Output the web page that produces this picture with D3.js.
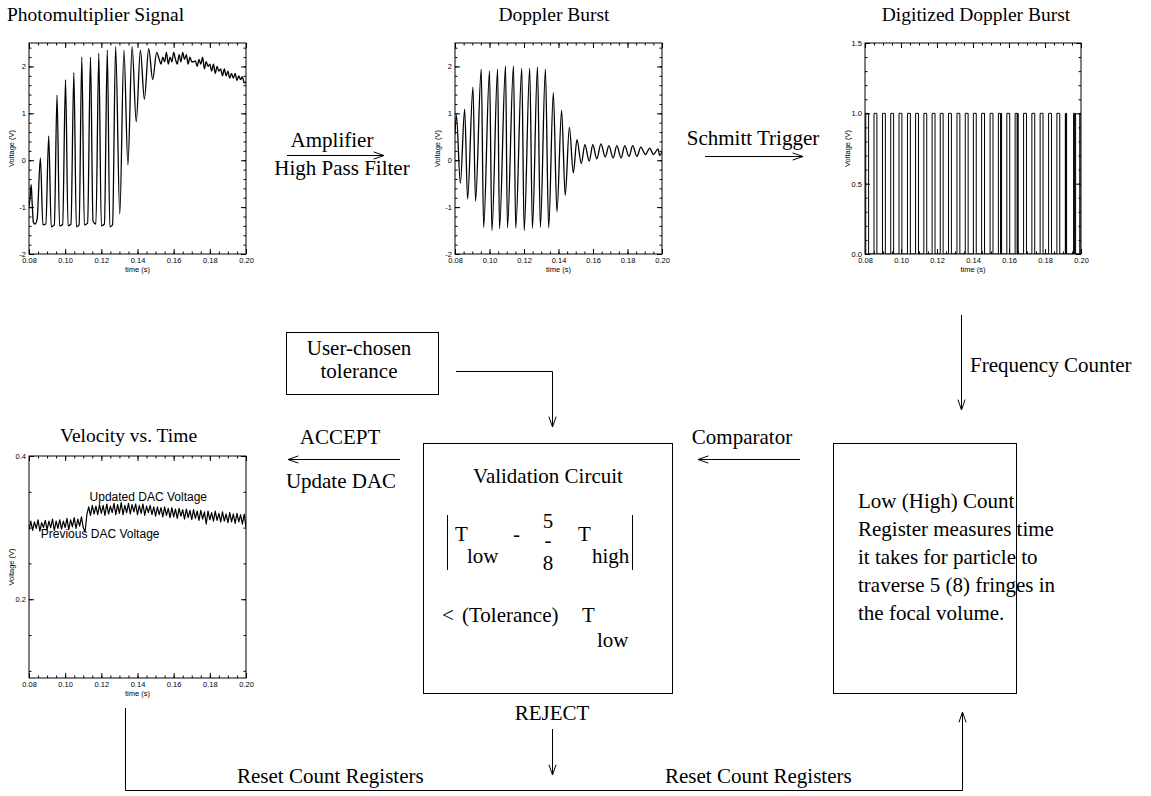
<!DOCTYPE html>
<html>
<head>
<meta charset="utf-8">
<script src="https://cdn.jsdelivr.net/npm/d3@7/dist/d3.min.js"></script>
<style>
  body { margin: 0; background: #fff; }
  .serif { font-family: 'Liberation Serif', 'Times New Roman', serif; font-size: 21px; fill: #000; }
  .title { font-family: 'Liberation Serif', 'Times New Roman', serif; font-size: 19.5px; fill: #000; }
  .axis text { font-family: 'Liberation Sans', Arial, sans-serif; font-size: 7.5px; fill: #000; }
  .axis line { stroke: #000; }
  .lab { font-family: 'Liberation Sans', Arial, sans-serif; font-size: 7.5px; fill: #000; }
</style>
</head>
<body>
<div class="viz"></div>
<script>
// ---------------- data ----------------
const timeTicks = [0.08, 0.10, 0.12, 0.14, 0.16, 0.18, 0.20]

// photomultiplier signal: extrema of the burst, then the noisy tail
const pmTimes = [0.0800, 0.0806, 0.0812, 0.0818, 0.0824, 0.0834, 0.0845,
  0.0863, 0.0877, 0.0893, 0.0909, 0.0923, 0.0940, 0.0955, 0.0969, 0.0986,
  0.1002, 0.1016, 0.1032, 0.1048, 0.1062, 0.1077, 0.1092, 0.1106, 0.1124,
  0.1140, 0.1154, 0.1170, 0.1186, 0.1200, 0.1217, 0.1233, 0.1247, 0.1262,
  0.1279, 0.1302, 0.1325, 0.1347, 0.1370, 0.1393, 0.1416, 0.1438, 0.1462,
  0.1484, 0.1506,
  0.152, 0.153, 0.154, 0.155, 0.156, 0.157, 0.158, 0.159, 0.160, 0.161,
  0.162, 0.163, 0.164, 0.165, 0.166, 0.167, 0.168, 0.169, 0.170, 0.171,
  0.172, 0.173, 0.174, 0.175, 0.176, 0.177, 0.178, 0.179, 0.180, 0.181,
  0.182, 0.183, 0.184, 0.185, 0.186, 0.187, 0.188, 0.189, 0.190, 0.191,
  0.192, 0.193, 0.194, 0.195, 0.196, 0.197, 0.198, 0.199, 0.200]
const pmVolts = [-1.00, -0.80, -0.52, -0.95, -1.32, -1.36, -1.25,
  0.05, -1.38, -1.36, 0.52, -1.42, -1.38, 1.39, -1.40, -1.37,
  1.72, -1.40, -1.36, 1.87, -1.42, -1.38, 2.20, -1.38, -1.34,
  2.20, -1.30, -1.36, 2.28, -1.40, -1.36, 2.35, -1.42, -1.38,
  2.42, -1.15, 2.35, -0.10, 2.42, 0.82, 2.35, 1.30, 2.38,
  1.72, 2.30,
  2.15, 2.05, 2.20, 2.10, 2.30, 2.05, 2.20, 2.10, 2.30, 2.15,
  2.05, 2.25, 2.10, 2.30, 2.15, 2.25, 2.05, 2.20, 2.10, 2.10,
  2.12, 2.00, 2.15, 2.05, 2.20, 1.95, 2.10, 2.00, 2.05, 1.90,
  2.05, 1.85, 2.00, 1.90, 1.95, 1.80, 1.95, 1.80, 1.90, 1.75,
  1.85, 1.75, 1.85, 1.70, 1.80, 1.72, 1.78, 1.65, 1.68]
const pmTicks = [-2, -1, 0, 1, 2]

// doppler burst after high pass filter: extrema
const dbTimes = [0.0800, 0.0808, 0.0831, 0.0856, 0.0873, 0.0904, 0.0919, 0.0952,
  0.0966, 0.1000, 0.1014, 0.1047, 0.1058, 0.1093, 0.1104, 0.1139, 0.1152,
  0.1187, 0.1201, 0.1233, 0.1249, 0.1278, 0.1295, 0.1324, 0.1343, 0.1370,
  0.1391, 0.1418, 0.1439, 0.1463, 0.1486, 0.1507, 0.1532, 0.1553, 0.1578,
  0.1599, 0.1622, 0.1646, 0.1671, 0.1692, 0.1717, 0.1738, 0.1763, 0.1784,
  0.1809, 0.1830, 0.1855, 0.1877, 0.1904, 0.1929, 0.1950, 0.1977, 0.1986, 0.2000]
const dbVolts = [0.55, 0.96, -0.49, 1.09, -0.83, 1.56, -0.87, 1.94,
  -1.43, 1.90, -1.50, 1.94, -1.46, 2.01, -1.44, 2.01, -1.45,
  1.96, -1.50, 1.96, -1.45, 1.99, -1.43, 1.94, -1.44, 1.44,
  -1.10, 1.07, -0.75, 0.70, -0.27, 0.44, -0.07, 0.33, -0.02,
  0.33, 0.03, 0.35, 0.07, 0.31, 0.05, 0.31, 0.05, 0.31,
  0.08, 0.31, 0.08, 0.28, 0.12, 0.26, 0.12, 0.24, 0.10, 0.18]

// schmitt trigger output: pulse edges
const digRise = [0.0804, 0.0850, 0.0897, 0.0943, 0.0989, 0.1036, 0.1081, 0.1127,
  0.1173, 0.1218, 0.1264, 0.1311, 0.1357, 0.1402, 0.1448, 0.1495, 0.1541, 0.1556,
  0.1588, 0.1634, 0.1648, 0.1681, 0.1727, 0.1773, 0.1820, 0.1866, 0.1913, 0.1917,
  0.1959, 0.1965, 0.1993]
const digFall = [0.0820, 0.0866, 0.0913, 0.0959, 0.1005, 0.1052, 0.1097, 0.1143,
  0.1189, 0.1234, 0.1280, 0.1327, 0.1373, 0.1418, 0.1464, 0.1511, 0.1553, 0.1559,
  0.1604, 0.1645, 0.1651, 0.1697, 0.1743, 0.1789, 0.1836, 0.1882, 0.1915, 0.1920,
  0.1962, 0.1970, 0.2000]
const digTicks = [0, 0.5, 1.0, 1.5]

// velocity vs time (DAC voltage)
const velTimes = [0.080, 0.081, 0.082, 0.083, 0.084, 0.085, 0.086, 0.087, 0.088, 0.089,
  0.090, 0.091, 0.092, 0.093, 0.094, 0.095, 0.096, 0.097, 0.098, 0.099,
  0.100, 0.101, 0.102, 0.103, 0.104, 0.105, 0.106, 0.107, 0.108, 0.109,
  0.110, 0.111, 0.112, 0.113, 0.114, 0.115, 0.116, 0.117, 0.118, 0.119,
  0.120, 0.121, 0.122, 0.123, 0.124, 0.125, 0.126, 0.127, 0.128, 0.129,
  0.130, 0.131, 0.132, 0.133, 0.134, 0.135, 0.136, 0.137, 0.138, 0.139,
  0.140, 0.141, 0.142, 0.143, 0.144, 0.145, 0.146, 0.147, 0.148, 0.149,
  0.150, 0.151, 0.152, 0.153, 0.154, 0.155, 0.156, 0.157, 0.158, 0.159,
  0.160, 0.161, 0.162, 0.163, 0.164, 0.165, 0.166, 0.167, 0.168, 0.169,
  0.170, 0.171, 0.172, 0.173, 0.174, 0.175, 0.176, 0.177, 0.178, 0.179,
  0.180, 0.181, 0.182, 0.183, 0.184, 0.185, 0.186, 0.187, 0.188, 0.189,
  0.190, 0.191, 0.192, 0.193, 0.194, 0.195, 0.196, 0.197, 0.198, 0.199, 0.200]
const velVolts = [0.297, 0.309, 0.296, 0.308, 0.299, 0.311, 0.295, 0.307, 0.300, 0.310,
  0.297, 0.309, 0.300, 0.312, 0.296, 0.309, 0.299, 0.311, 0.298, 0.309,
  0.300, 0.313, 0.297, 0.311, 0.301, 0.314, 0.299, 0.312, 0.302, 0.315,
  0.300, 0.294, 0.318, 0.329, 0.317, 0.331, 0.319, 0.330, 0.318, 0.332,
  0.320, 0.331, 0.317, 0.333, 0.319, 0.330, 0.321, 0.334, 0.318, 0.332,
  0.320, 0.335, 0.318, 0.331, 0.321, 0.334, 0.319, 0.332, 0.322, 0.333,
  0.318, 0.331, 0.320, 0.333, 0.317, 0.330, 0.321, 0.331, 0.318, 0.329,
  0.316, 0.329, 0.318, 0.328, 0.315, 0.329, 0.317, 0.327, 0.314, 0.328,
  0.315, 0.326, 0.313, 0.327, 0.316, 0.325, 0.312, 0.326, 0.314, 0.324,
  0.311, 0.325, 0.313, 0.323, 0.310, 0.324, 0.312, 0.322, 0.305, 0.323,
  0.311, 0.321, 0.309, 0.323, 0.310, 0.320, 0.308, 0.322, 0.309, 0.319,
  0.307, 0.321, 0.308, 0.319, 0.306, 0.320, 0.308, 0.318, 0.305, 0.319, 0.300]
const velTicks = [0.2, 0.4]

// ---------------- svg ----------------
const svg = d3.select('.viz')
  .append('svg')
    .attr('width', 1151)
    .attr('height', 796)
    .style('display', 'block')

// one IDL-style plot: frame, inward ticks on all four sides, small labels
function drawPlot(opts) {
  const g = svg.append('g').attr('transform', `translate(${opts.left}, ${opts.top})`)
  const w = opts.width, h = opts.height
  const x = d3.scaleLinear().domain([0.08, 0.20]).range([0, w])
  const y = d3.scaleLinear().domain(opts.yDomain).range([h, 0])

  const xMinor = x.ticks(24)
  const yMinor = y.ticks(opts.yMinorCount).filter(v => v >= opts.yDomain[0] && v <= opts.yDomain[1])
  const noDomain = s => s.select('.domain').remove()

  g.append('g').attr('class', 'axis').attr('transform', `translate(0, ${h})`)
    .call(d3.axisBottom(x).tickValues(timeTicks).tickFormat(d3.format('.2f')).tickSize(-5).tickPadding(3.5))
    .call(noDomain)
  g.append('g').attr('class', 'axis').attr('transform', `translate(0, ${h})`)
    .call(d3.axisBottom(x).tickValues(xMinor).tickFormat('').tickSize(-2.5)).call(noDomain)
  g.append('g').attr('class', 'axis')
    .call(d3.axisTop(x).tickValues(timeTicks).tickFormat('').tickSize(-5)).call(noDomain)
  g.append('g').attr('class', 'axis')
    .call(d3.axisTop(x).tickValues(xMinor).tickFormat('').tickSize(-2.5)).call(noDomain)

  g.append('g').attr('class', 'axis')
    .call(d3.axisLeft(y).tickValues(opts.yTicks).tickFormat(opts.yFormat).tickSize(-5).tickPadding(3))
    .call(noDomain)
  g.append('g').attr('class', 'axis')
    .call(d3.axisLeft(y).tickValues(yMinor).tickFormat('').tickSize(-2.5)).call(noDomain)
  g.append('g').attr('class', 'axis').attr('transform', `translate(${w}, 0)`)
    .call(d3.axisRight(y).tickValues(opts.yTicks).tickFormat('').tickSize(-5)).call(noDomain)
  g.append('g').attr('class', 'axis').attr('transform', `translate(${w}, 0)`)
    .call(d3.axisRight(y).tickValues(yMinor).tickFormat('').tickSize(-2.5)).call(noDomain)

  g.append('rect')
    .attr('width', w).attr('height', h)
    .attr('fill', 'none').attr('stroke', '#000').attr('stroke-width', 1)

  g.append('text').attr('class', 'lab')
    .attr('text-anchor', 'middle')
    .attr('x', w / 2).attr('y', h + 17.5)
    .text('time (s)')
  g.append('text').attr('class', 'lab')
    .attr('text-anchor', 'middle')
    .attr('transform', `translate(${-15}, ${h / 2}) rotate(-90)`)
    .text('Voltage (V)')

  const line = d3.line()
    .x(d => x(d[0]))
    .y(d => y(d[1]))
    .curve(opts.curve || d3.curveLinear)
  const clipId = 'clip' + opts.left + '_' + opts.top
  g.append('clipPath').attr('id', clipId).append('rect').attr('width', w).attr('height', h)
  g.append('path')
    .datum(opts.points)
    .attr('clip-path', `url(#${clipId})`)
    .attr('d', line)
    .attr('fill', 'none')
    .attr('stroke', '#000')
    .attr('stroke-width', opts.lineWidth || 1.2)
    .attr('stroke-linejoin', 'round')

  g.append('text').attr('class', 'title')
    .attr('text-anchor', opts.titleAnchor || 'middle')
    .attr('x', opts.titleX - opts.left).attr('y', opts.titleY - opts.top)
    .text(opts.title)
  return { g, x, y }
}

const intFmt = d => String(d)

drawPlot({
  left: 29, top: 43, width: 217, height: 211,
  yDomain: [-2, 2.5], yTicks: pmTicks, yMinorCount: 20, yFormat: intFmt,
  points: d3.zip(pmTimes, pmVolts), curve: d3.curveMonotoneX, lineWidth: 1.3,
  title: 'Photomultiplier Signal', titleX: 7, titleY: 21, titleAnchor: 'start'
})

drawPlot({
  left: 455, top: 43, width: 207, height: 211,
  yDomain: [-2, 2.5], yTicks: pmTicks, yMinorCount: 20, yFormat: intFmt,
  points: d3.zip(dbTimes, dbVolts), curve: d3.curveMonotoneX, lineWidth: 1.3,
  title: 'Doppler Burst', titleX: 554, titleY: 21
})

// build step trace from pulse edges
const digPoints = [[0.08, 0]]
digRise.forEach((r, i) => {
  digPoints.push([r, 0], [r, 1], [digFall[i], 1], [digFall[i], 0])
})
drawPlot({
  left: 865, top: 43, width: 216, height: 211,
  yDomain: [0, 1.5], yTicks: digTicks, yMinorCount: 15, yFormat: d3.format('.1f'),
  points: digPoints, lineWidth: 1,
  title: 'Digitized Doppler Burst', titleX: 976, titleY: 21
})

const vel = drawPlot({
  left: 29, top: 456, width: 217, height: 222,
  yDomain: [0.09, 0.4], yTicks: velTicks, yMinorCount: 6, yFormat: d3.format('.1f'),
  points: d3.zip(velTimes, velVolts), lineWidth: 1.2,
  title: 'Velocity vs. Time', titleX: 60, titleY: 442, titleAnchor: 'start'
})
vel.g.append('text')
  .attr('x', vel.x(0.1135)).attr('y', vel.y(0.3375))
  .style('font-family', "'Liberation Sans', Arial, sans-serif").style('font-size', '12px')
  .text('Updated DAC Voltage')
vel.g.append('text')
  .attr('x', vel.x(0.0865)).attr('y', vel.y(0.2855))
  .style('font-family', "'Liberation Sans', Arial, sans-serif").style('font-size', '12px')
  .text('Previous DAC Voltage')

// ---------------- block diagram ----------------
const ink = '#000'
function arrow(pts) {
  svg.append('path')
    .attr('d', d3.line()(pts))
    .attr('fill', 'none').attr('stroke', ink).attr('stroke-width', 1)
  const [x1, y1] = pts[pts.length - 2], [x2, y2] = pts[pts.length - 1]
  const a = Math.atan2(y2 - y1, x2 - x1)
  const len = 11, spread = 0.33
  const head = [
    [x2 - len * Math.cos(a - spread), y2 - len * Math.sin(a - spread)],
    [x2, y2],
    [x2 - len * Math.cos(a + spread), y2 - len * Math.sin(a + spread)]
  ]
  svg.append('path')
    .attr('d', d3.line()(head))
    .attr('fill', 'none').attr('stroke', ink).attr('stroke-width', 1)
}
function label(txt, x, y, anchor) {
  return svg.append('text').attr('class', 'serif')
    .attr('x', x).attr('y', y)
    .attr('text-anchor', anchor || 'middle')
    .text(txt)
}
function box(x, y, w, h) {
  svg.append('rect').attr('x', x).attr('y', y).attr('width', w).attr('height', h)
    .attr('fill', 'none').attr('stroke', ink).attr('stroke-width', 1)
}

// top row arrows
label('Amplifier', 332, 147)
arrow([[287, 155.5], [384, 155.5]])
label('High Pass Filter', 342, 175)
label('Schmitt Trigger', 753, 145)
arrow([[705, 156.5], [803, 156.5]])

// frequency counter
arrow([[961.5, 315], [961.5, 410]])
label('Frequency Counter', 970, 372, 'start')

// user tolerance
box(286.5, 332.5, 152, 62)
label('User-chosen', 359, 355)
label('tolerance', 359, 378)
arrow([[456, 371.5], [552.5, 371.5], [552.5, 427]])

// validation circuit
box(423.5, 443.5, 249, 250)
label('Validation Circuit', 548, 483)
svg.append('line').attr('x1', 447.5).attr('x2', 447.5).attr('y1', 515).attr('y2', 570).attr('stroke', ink)
svg.append('line').attr('x1', 632.5).attr('x2', 632.5).attr('y1', 515).attr('y2', 570).attr('stroke', ink)
label('T', 455, 541, 'start')
label('low', 467, 563, 'start')
label('-', 513, 541, 'start')
label('5', 548, 528)
label('-', 548, 547)
label('8', 548, 570)
label('T', 578, 541, 'start')
label('high', 592, 563, 'start')
label('<', 442, 622, 'start')
label('(Tolerance)', 462, 622, 'start')
label('T', 582, 622, 'start')
label('low', 597, 647, 'start')

// count register box
box(833.5, 443.5, 183, 250)
const regLines = ['Low (High) Count', 'Register measures time', 'it takes for particle to',
  'traverse 5 (8) fringes in', 'the focal volume.']
regLines.forEach((t, i) => label(t, 858, 508 + i * 28, 'start'))

// comparator & accept
label('Comparator', 742, 444)
arrow([[800, 459.5], [698, 459.5]])
label('ACCEPT', 340, 444)
arrow([[400, 459.5], [288, 459.5]])
label('Update DAC', 341, 488)

// reject & reset loop
label('REJECT', 552, 720)
arrow([[552.5, 729], [552.5, 775]])
arrow([[125.5, 708], [125.5, 790.5], [962.5, 790.5], [962.5, 712]])
label('Reset Count Registers', 237, 783, 'start')
label('Reset Count Registers', 665, 783, 'start')
</script>
</body>
</html>
